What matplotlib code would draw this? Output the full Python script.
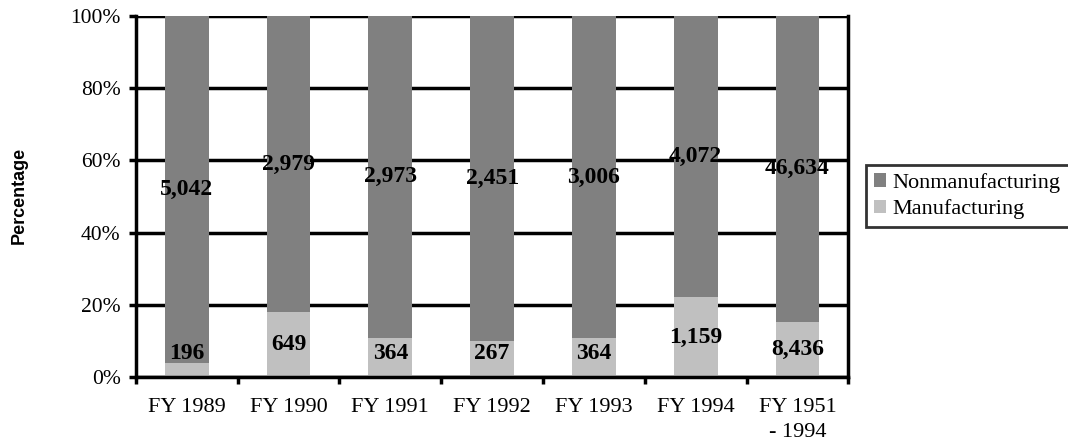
import matplotlib.pyplot as plt
import numpy as np

categories = ["FY 1989", "FY 1990", "FY 1991", "FY 1992", "FY 1993", "FY 1994", "FY 1951\n- 1994"]
manufacturing = [196, 649, 364, 267, 364, 1159, 8436]
nonmanufacturing = [5042, 2979, 2973, 2451, 3006, 4072, 46634]

plt.rcParams['font.family'] = ['Liberation Serif', 'DejaVu Serif']

man = np.array(manufacturing, dtype=float)
non = np.array(nonmanufacturing, dtype=float)
tot = man + non
man_pct = man / tot * 100
non_pct = non / tot * 100

fig = plt.figure(figsize=(10.68, 4.44), dpi=100)
ax = fig.add_axes([0.1273, 0.151, 0.667, 0.813])

x = np.arange(len(categories))
w = 0.43
ax.bar(x, man_pct, w, color='#c0c0c0', label='Manufacturing', zorder=3)
ax.bar(x, non_pct, w, bottom=man_pct, color='#808080', label='Nonmanufacturing', zorder=3)

for i in range(len(x)):
    ax.text(x[i], max(man_pct[i] / 2, 6.5), f"{manufacturing[i]:,}", ha='center', va='center',
            fontsize=17, fontweight='bold', zorder=4)
    ax.text(x[i], man_pct[i] + non_pct[i] / 2, f"{nonmanufacturing[i]:,}", ha='center', va='center',
            fontsize=17, fontweight='bold', zorder=4)

ax.set_xlim(-0.5, len(x) - 0.5)
ax.set_ylim(0, 100)
ax.set_yticks(np.arange(0, 101, 20))
ax.set_yticklabels([f"{v}%" for v in range(0, 101, 20)], fontsize=15.5)
ax.set_xticks(x)
ax.set_xticklabels(categories, fontsize=16, linespacing=1.45)
ax.set_xticks(np.arange(-0.5, len(x), 1), minor=True)
ax.tick_params(axis='x', which='major', length=0, pad=15)
ax.tick_params(axis='x', which='minor', length=5, width=2.5, direction='out')
ax.tick_params(axis='y', length=5, width=2.5, direction='out', pad=6)

ax.yaxis.grid(True, color='black', linewidth=2.5, zorder=1)
ax.set_axisbelow(True)
for s in ['left', 'bottom', 'right']:
    ax.spines[s].set_linewidth(2.5)
    ax.spines[s].set_zorder(5)
ax.spines['top'].set_visible(False)

fig.text(0.018, 0.56, "Percentage", rotation=90, ha='center', va='center',
         fontsize=13, fontweight='bold', family=['Liberation Sans', 'DejaVu Sans'])

h, l = ax.get_legend_handles_labels()
leg = fig.legend(h[::-1], l[::-1], loc='upper left', bbox_to_anchor=(0.811, 0.628),
                 fontsize=16, frameon=True, fancybox=False, handlelength=0.55, handleheight=0.55,
                 handletextpad=0.3, borderpad=0.35, labelspacing=0.3, borderaxespad=0)
leg.get_frame().set_edgecolor('black')
leg.get_frame().set_linewidth(2)

fig.savefig('out.png', dpi=100)
